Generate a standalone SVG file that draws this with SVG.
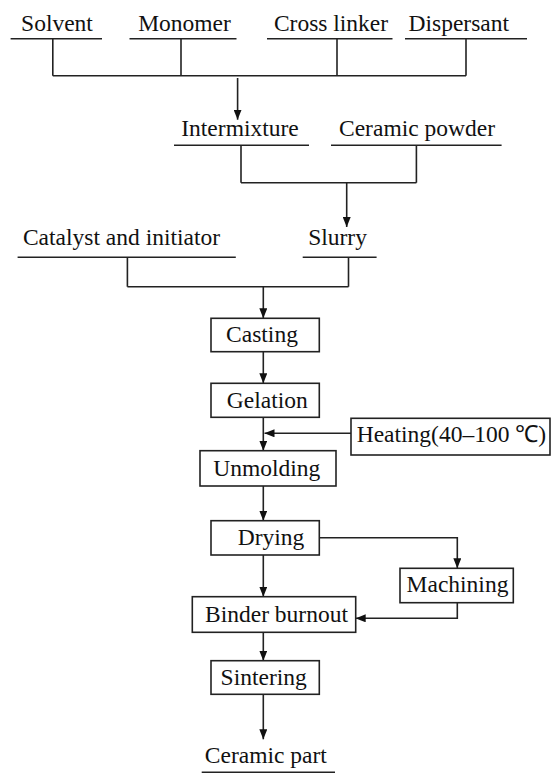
<svg xmlns="http://www.w3.org/2000/svg" width="552" height="775" viewBox="0 0 552 775">
<style>
text{font-family:"Liberation Serif","Times New Roman",serif;font-size:23.5px;fill:#111;text-anchor:middle}
.ln{stroke:#222;stroke-width:1.6;fill:none}
.bx{stroke:#222;stroke-width:1.6;fill:#fff}
.ar{marker-end:url(#ah)}
</style>
<defs>
<marker id="ah" markerUnits="userSpaceOnUse" markerWidth="10" markerHeight="8" refX="10" refY="4" orient="auto">
<path d="M0,0 L10,4 L0,8 z" fill="#111"/>
</marker>
</defs>
<rect width="552" height="775" fill="#fff"/>
<g id="connectors">
<path class="ln" d="M52.8,38.7V75.7M181,38.7V75.7M337,38.7V75.7M466,38.7V75.7M52.8,75.7H466"/>
<path class="ln ar" d="M237.6,78V119.7"/>
<path class="ln" d="M241,145.3V182.7M416.4,145.3V182.7M241,182.7H416.4"/>
<path class="ln ar" d="M346.7,182.7V227"/>
<path class="ln" d="M127.4,257.3V286.7M348.5,257.3V286.7M127.4,286.7H348.5"/>
<path class="ln ar" d="M263.3,286.7V318.3"/>
<path class="ln ar" d="M263.3,351.7V383.3"/>
<path class="ln ar" d="M263.3,417.3V450.7"/>
<path class="ln ar" d="M351,433.3H264.5"/>
<path class="ln ar" d="M263.3,486V520.7"/>
<path class="ln ar" d="M319.3,537.7H457.3V568.3"/>
<path class="ln ar" d="M263.3,555V596.7"/>
<path class="ln ar" d="M457.3,602.7V618.3H355.7"/>
<path class="ln ar" d="M263.3,632.3V660.7"/>
<path class="ln ar" d="M263.3,694.3V739.3"/>
</g>
<g id="solvent"><text x="57" y="30.6">Solvent</text><path class="ln" d="M10.6,38.7H102"/></g>
<g id="monomer"><text x="184.5" y="30.6">Monomer</text><path class="ln" d="M129.5,38.7H236.5"/></g>
<g id="crosslinker"><text x="331" y="30.6">Cross linker</text><path class="ln" d="M267,38.7H392.5"/></g>
<g id="dispersant"><text x="458.8" y="30.6">Dispersant</text><path class="ln" d="M405,38.7H527"/></g>
<g id="intermixture"><text x="240" y="135.8">Intermixture</text><path class="ln" d="M174,145.3H309"/></g>
<g id="ceramicpowder"><text x="417" y="135.8">Ceramic powder</text><path class="ln" d="M331,145.3H501.6"/></g>
<g id="catalyst"><text x="121.5" y="245">Catalyst and initiator</text><path class="ln" d="M17.6,257.3H235.8"/></g>
<g id="slurry"><text x="337.5" y="245">Slurry</text><path class="ln" d="M302.7,257.3H376.6"/></g>
<g id="casting"><rect class="bx" x="211" y="318.3" width="108.3" height="33.4"/><text x="262" y="341.7">Casting</text></g>
<g id="gelation"><rect class="bx" x="211" y="383.3" width="108.3" height="34"/><text x="267.3" y="408">Gelation</text></g>
<g id="heating"><rect class="bx" x="351" y="418.3" width="199" height="36.7"/><text x="356.7" y="441.7" style="text-anchor:start">Heating(40–100 ℃)</text></g>
<g id="unmolding"><rect class="bx" x="200" y="450.7" width="136" height="35.3"/><text x="266.7" y="476">Unmolding</text></g>
<g id="drying"><rect class="bx" x="211" y="520.7" width="108.3" height="34.3"/><text x="271" y="545">Drying</text></g>
<g id="machining"><rect class="bx" x="400" y="568.3" width="113.3" height="34.4"/><text x="457.5" y="591.7">Machining</text></g>
<g id="binderburnout"><rect class="bx" x="192.3" y="596.7" width="163.4" height="35.6"/><text x="276.5" y="621.7">Binder burnout</text></g>
<g id="sintering"><rect class="bx" x="211" y="660.7" width="108.3" height="33.6"/><text x="263.7" y="685">Sintering</text></g>
<g id="ceramicpart"><text x="265.8" y="762.7">Ceramic part</text><path class="ln" d="M201.7,772.3H335"/></g>
</svg>
